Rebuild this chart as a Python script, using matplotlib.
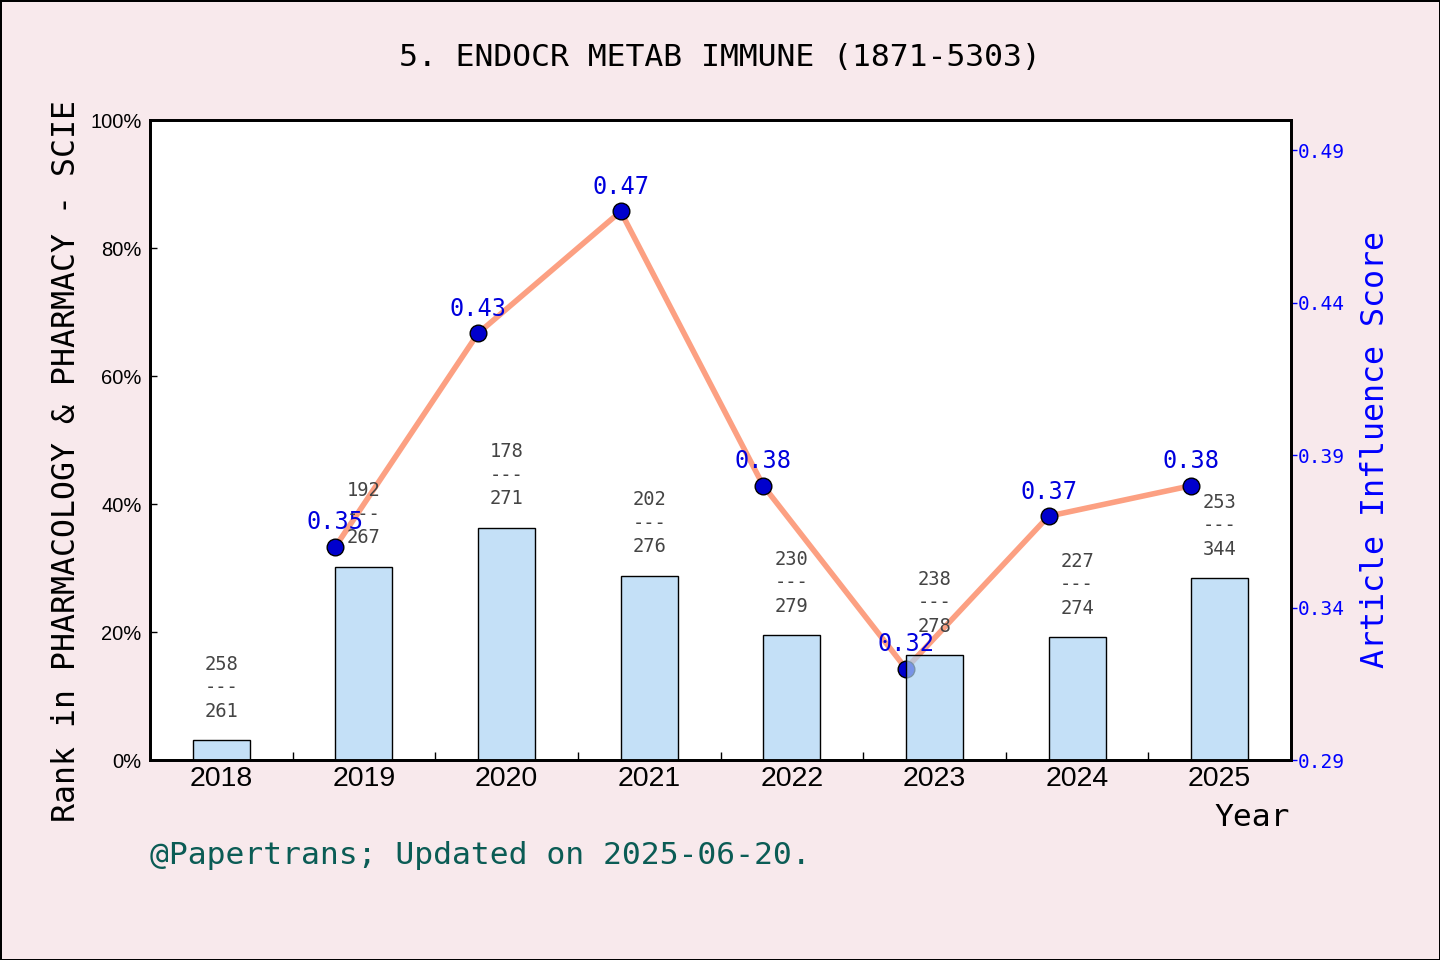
"""
Rank percentile bars + Article Influence Score line, twin axes.
"""

import numpy as np
import matplotlib
matplotlib.use("Agg")
import matplotlib.pyplot as plt
from matplotlib.ticker import FixedLocator, PercentFormatter

years = ["2018", "2019", "2020", "2021", "2022", "2023", "2024", "2025"]
ranks = [258, 192, 178, 202, 230, 238, 227, 253]
totals = [261, 267, 271, 276, 279, 278, 274, 344]
rank_pct = [3.1, 30.2, 36.3, 28.8, 19.5, 16.4, 19.2, 28.4]
ais = [np.nan, 0.36, 0.43, 0.47, 0.38, 0.32, 0.37, 0.38]
ais_labels = ["", "0.35", "0.43", "0.47", "0.38", "0.32", "0.37", "0.38"]
right_ticks = [0.29, 0.34, 0.39, 0.44, 0.49]

MONO = "DejaVu Sans Mono"
SANS = "Liberation Sans"
BG = "#f8e9ec"

fig = plt.figure(figsize=(14.4, 9.6), dpi=100, facecolor=BG,
                 edgecolor="black", linewidth=2)
ax = fig.add_axes([150 / 1440, 1 - 760 / 960, 1141 / 1440, 640 / 960])
ax2 = ax.twinx()

# bars sit above the line, so the bar axis is drawn last
ax.set_zorder(2)
ax2.set_zorder(1)
ax.patch.set_visible(False)
ax2.patch.set_visible(True)
ax2.patch.set_facecolor("white")

x = np.arange(len(years))
width = 0.4

ax.bar(x, rank_pct, width=width, facecolor=(0.675, 0.827, 0.957, 0.7),
       edgecolor="black", linewidth=1)
for xi, h, r, t in zip(x, rank_pct, ranks, totals):
    ax.annotate(f"{r}\n---\n{t}", (xi, h), xytext=(0, 14),
                textcoords="offset points", ha="center", va="bottom",
                fontsize=13.5, color="#444444", family=MONO, linespacing=1.3)

ax.set_xlim(-0.5, len(years) - 0.5)
ax.set_ylim(0, 100)
ax.yaxis.set_major_locator(FixedLocator([0, 20, 40, 60, 80, 100]))
ax.yaxis.set_major_formatter(PercentFormatter(decimals=0))
ax.set_xticks(x)
ax.set_xticklabels(years, family=SANS, fontsize=20.5)
ax.xaxis.set_minor_locator(FixedLocator(x[:-1] + 0.5))
ax.tick_params(axis="x", which="major", length=0, pad=4)
ax.tick_params(axis="x", which="minor", direction="in", length=6, width=1)
ax.tick_params(axis="y", direction="in", length=5, width=1, labelsize=14.5, pad=6)
for lab in ax.get_yticklabels():
    lab.set_family(["Liberation Sans Narrow", SANS])

# line points sit on the left edge of each bar
lx = x - width / 2
ax2.plot(lx, ais, color="#fca082", linewidth=4, zorder=2,
         marker="o", markersize=12, markerfacecolor="#0000cd",
         markeredgecolor="black", markeredgewidth=1)
for xi, v, s in zip(lx, ais, ais_labels):
    if s:
        ax2.annotate(s, (xi, v), xytext=(0, 9), textcoords="offset points",
                     ha="center", va="bottom", fontsize=17, color="#0000dd",
                     family=MONO)

ax2.set_ylim(0.29, 0.50)
ax2.yaxis.set_major_locator(FixedLocator(right_ticks))
ax2.set_yticklabels([f"{v:.2f}" for v in right_ticks], family=MONO,
                    fontsize=14, color="blue")
ax2.tick_params(axis="y", direction="out", length=4, width=1,
                color="blue", pad=1)

for a in (ax, ax2):
    for sp in a.spines.values():
        sp.set_linewidth(2)
        sp.set_color("black")

fig.text(0.5, 1 - 57 / 960, "5. ENDOCR METAB IMMUNE (1871-5303)",
         ha="center", va="center", fontsize=22.6, family=MONO)
fig.text(67 / 1440, 1 - 461 / 960, "Rank in PHARMACOLOGY & PHARMACY - SCIE",
         rotation=90, ha="center", va="center", fontsize=22.7, family=MONO)
fig.text(1375 / 1440, 1 - 450 / 960, "Article Influence Score",
         rotation=90, ha="center", va="center", fontsize=22.8, family=MONO,
         color="blue")
fig.text(1290 / 1440, 1 - 817 / 960, "Year", ha="right", va="center",
         fontsize=22.6, family=MONO)
fig.text(150 / 1440, 1 - 855 / 960, "@Papertrans; Updated on 2025-06-20.",
         ha="left", va="center", fontsize=22.6, family=MONO, color="#0b5c55")

fig.savefig("out.png", dpi=100, facecolor=BG, edgecolor="black")
